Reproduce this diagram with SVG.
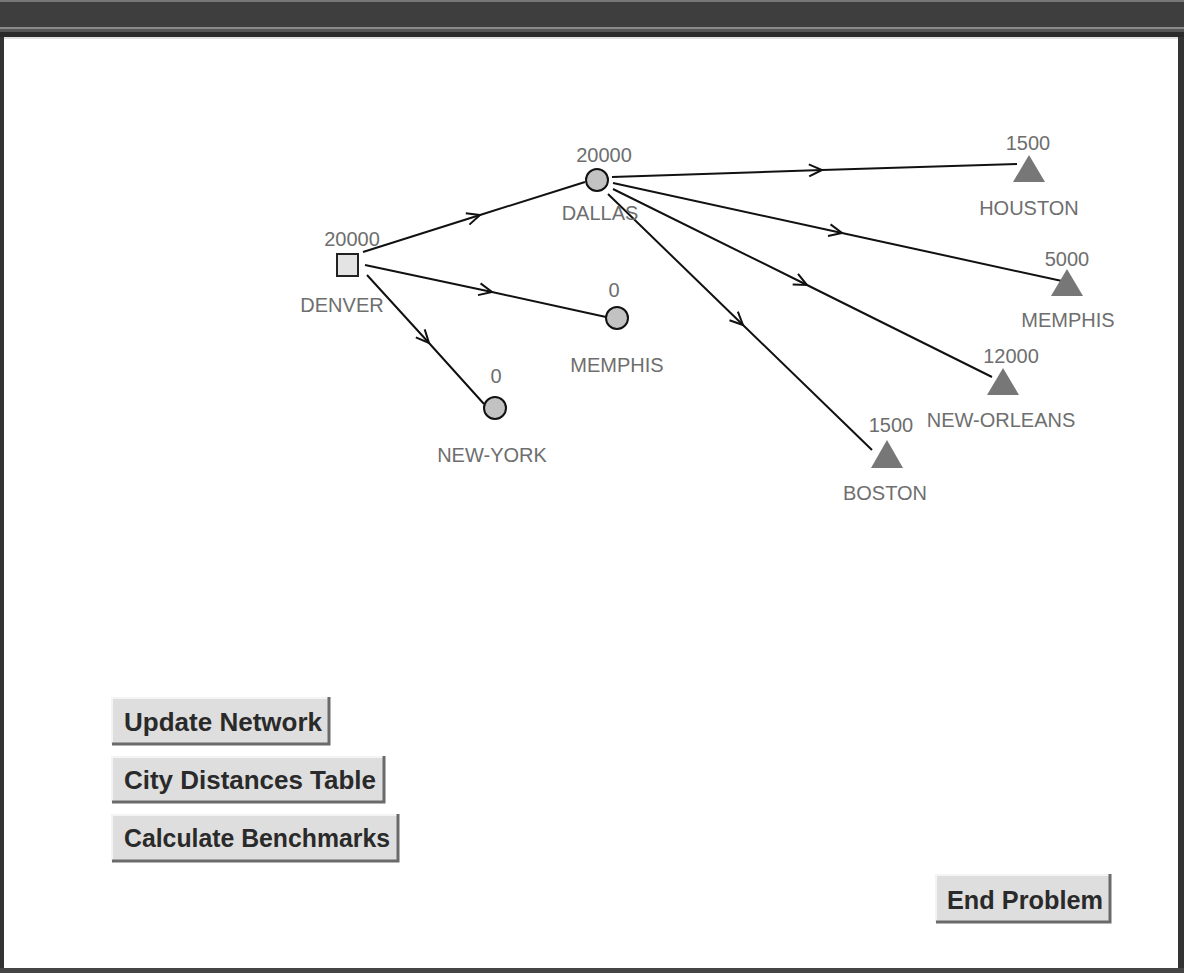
<svg xmlns="http://www.w3.org/2000/svg" width="1184" height="973" viewBox="0 0 1184 973">
<defs>
<marker id="arr" markerUnits="userSpaceOnUse" markerWidth="30" markerHeight="30" refX="0" refY="0" viewBox="-15 -15 30 30" orient="auto" overflow="visible">
<path d="M-13,-6 L0,0 L-13,6" fill="none" stroke="#111" stroke-width="2"/>
</marker>
</defs>
<style>
.edge{fill:none;stroke:#111;stroke-width:2;marker-mid:url(#arr)}
.circ{fill:#c2c2c2;stroke:#111;stroke-width:2}
.tri{fill:#777777}
.lbl{font-family:"Liberation Sans",Arial,sans-serif;font-size:20px;fill:#6e6e6e;text-anchor:middle}
.btn{fill:#dedede}
.btnsh{fill:none;stroke:#6a6a6a;stroke-width:3}
.btnhi{fill:none;stroke:#f4f4f4;stroke-width:2}
.btxt{font-family:"Liberation Sans",Arial,sans-serif;font-size:26px;font-weight:bold;fill:#2a2a2a}
</style>
<rect x="0" y="0" width="1184" height="973" fill="#ffffff"/>
<g id="frame">
<rect x="0" y="0" width="1184" height="37" fill="#3e3e3e"/>
<rect x="0" y="0" width="1184" height="2" fill="#777"/>
<rect x="0" y="27" width="1184" height="2" fill="#8a8a8a"/>
<rect x="0" y="29" width="1184" height="3" fill="#555"/>
<rect x="0" y="32" width="1184" height="5" fill="#2a2a2a"/>
<rect x="4" y="37" width="1174" height="2" fill="#e2e2e2"/>
<rect x="0" y="37" width="4" height="936" fill="#333"/>
<rect x="1178" y="37" width="6" height="936" fill="#333"/>
<rect x="0" y="968" width="1184" height="5" fill="#444"/>
</g>
<g id="connectors">
<polyline class="edge" points="363,252 480,215 585,182"/>
<polyline class="edge" points="365,265 492,292 606,317"/>
<polyline class="edge" points="367,275 429,343 484,404"/>
<polyline class="edge" points="612,177 822,170 1017,164"/>
<polyline class="edge" points="613,183 842,233 1062,281"/>
<polyline class="edge" points="613,189 807,285 992,377"/>
<polyline class="edge" points="608,194 743,325 872,450"/>
</g>
<g id="node-denver">
<rect x="337" y="254" width="21" height="22" fill="#e4e4e4" stroke="#222" stroke-width="2"/>
<text class="lbl" x="352" y="246">20000</text>
<text class="lbl" x="342" y="312">DENVER</text>
</g>
<g id="node-dallas">
<circle class="circ" cx="597" cy="180" r="11"/>
<text class="lbl" x="604" y="162">20000</text>
<text class="lbl" x="600" y="220">DALLAS</text>
</g>
<g id="node-memphis-mid">
<circle class="circ" cx="617" cy="318" r="11"/>
<text class="lbl" x="614" y="297">0</text>
<text class="lbl" x="617" y="372">MEMPHIS</text>
</g>
<g id="node-newyork">
<circle class="circ" cx="495" cy="408" r="11"/>
<text class="lbl" x="496" y="383">0</text>
<text class="lbl" x="492" y="462">NEW-YORK</text>
</g>
<g id="node-houston">
<polygon class="tri" points="1029,155 1045,182 1013,182"/>
<text class="lbl" x="1028" y="150">1500</text>
<text class="lbl" x="1029" y="215">HOUSTON</text>
</g>
<g id="node-memphis-right">
<polygon class="tri" points="1067,269 1083,296 1051,296"/>
<text class="lbl" x="1067" y="266">5000</text>
<text class="lbl" x="1068" y="327">MEMPHIS</text>
</g>
<g id="node-neworleans">
<polygon class="tri" points="1003,368 1019,395 987,395"/>
<text class="lbl" x="1011" y="363">12000</text>
<text class="lbl" x="1001" y="427">NEW-ORLEANS</text>
</g>
<g id="node-boston">
<polygon class="tri" points="887,440 903,468 871,468"/>
<text class="lbl" x="891" y="432">1500</text>
<text class="lbl" x="885" y="500">BOSTON</text>
</g>
<g id="btn-update">
<rect class="btn" x="112" y="697" width="217" height="47"/>
<polyline class="btnhi" points="112,744 112,698 329,698"/>
<polyline class="btnsh" points="112,744 329,744 329,697"/>
<text class="btxt" x="124" y="731" textLength="198" lengthAdjust="spacingAndGlyphs">Update Network</text>
</g>
<g id="btn-city">
<rect class="btn" x="112" y="756" width="272" height="46"/>
<polyline class="btnhi" points="112,802 112,757 384,757"/>
<polyline class="btnsh" points="112,802 384,802 384,756"/>
<text class="btxt" x="124" y="789" textLength="252" lengthAdjust="spacingAndGlyphs">City Distances Table</text>
</g>
<g id="btn-bench">
<rect class="btn" x="112" y="814" width="286" height="47"/>
<polyline class="btnhi" points="112,861 112,815 398,815"/>
<polyline class="btnsh" points="112,861 398,861 398,814"/>
<text class="btxt" x="124" y="847" textLength="266" lengthAdjust="spacingAndGlyphs">Calculate Benchmarks</text>
</g>
<g id="btn-end">
<rect class="btn" x="936" y="874" width="174" height="48"/>
<polyline class="btnhi" points="936,922 936,875 1110,875"/>
<polyline class="btnsh" points="936,922 1110,922 1110,874"/>
<text class="btxt" x="947" y="909" textLength="156" lengthAdjust="spacingAndGlyphs">End Problem</text>
</g>
</svg>
